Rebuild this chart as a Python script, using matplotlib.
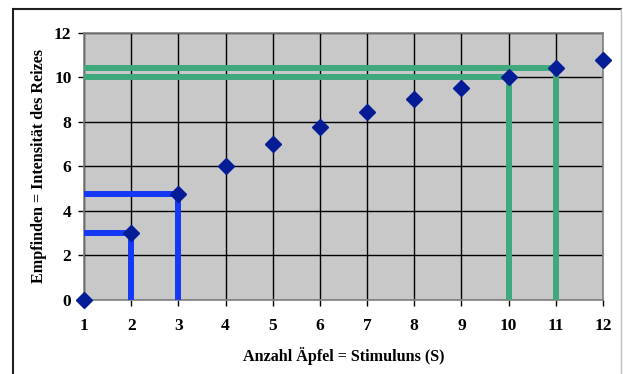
import matplotlib.pyplot as plt
from matplotlib.lines import Line2D

# Anzahl Äpfel (Stimulus) und Empfinden
apfel = [1, 2, 3, 4, 5, 6, 7, 8, 9, 10, 11, 12]
empfinden = [0.0, 3.01, 4.77, 6.02, 6.99, 7.78, 8.45, 9.03, 9.54, 10.0, 10.41, 10.79]

# markierte Punkte (blau: 2, 3 / grün: 10, 11)
blau_x = [2, 3]
blau_y = [3.01, 4.77]
gruen_x = [10, 11]
gruen_y = [10.0, 10.41]

x_ticks = list(range(1, 13))
y_ticks = [0, 2, 4, 6, 8, 10, 12]

plt.rcParams['font.family'] = ['Liberation Serif', 'DejaVu Serif']

fig = plt.figure(figsize=(6.23, 3.74), dpi=100)
ax = fig.add_axes([0.1348, 0.198, 0.8332, 0.714])
ax.set_facecolor('#c8c8c8')

# Hilfslinien zu den Achsen
for xx, yy in zip(blau_x, blau_y):
	ax.plot([1, xx, xx], [yy, yy, 0], color='#1438f5', linewidth=4.3, solid_joinstyle='miter', zorder=3)
for xx, yy in zip(gruen_x, gruen_y):
	ax.plot([1, xx, xx], [yy, yy, 0], color='#3fa87c', linewidth=4.3, solid_joinstyle='miter', zorder=3)

ax.plot(apfel, empfinden, linestyle='none', marker='D', markersize=8, color='#041c96', zorder=4, clip_on=False)

ax.set_xlim(1, 12)
ax.set_ylim(0, 12)
ax.set_xticks(x_ticks)
ax.set_yticks(y_ticks)
ax.grid(True, color='black', linewidth=1)
ax.set_axisbelow(True)
for s in ax.spines.values():
	s.set_color('#808080')
	s.set_linewidth(1.2)
ax.tick_params(direction='out', length=4, width=1, color='black', labelsize=12.5)
ax.tick_params(axis='x', pad=9)
ax.tick_params(axis='y', pad=5)
for lab in ax.get_xticklabels() + ax.get_yticklabels():
	lab.set_fontweight('bold')

ax.set_xlabel('Anzahl Äpfel = Stimuluns (S)', fontsize=11.6, fontweight='bold', labelpad=9)
ax.set_ylabel('Empfinden = Intensität des Reizes', fontsize=11.6, fontweight='bold', labelpad=5)

# Rahmen um das Diagramm
fig.add_artist(Line2D([13/623, 13/623], [0, 1 - 9/374], transform=fig.transFigure, color='#202020', linewidth=1.5))
fig.add_artist(Line2D([13/623, 621/623], [1 - 9/374, 1 - 9/374], transform=fig.transFigure, color='#202020', linewidth=1.5))
fig.add_artist(Line2D([621/623, 621/623], [0, 1 - 9/374], transform=fig.transFigure, color='#c0c0c0', linewidth=1))

fig.savefig('out.png', dpi=100)
